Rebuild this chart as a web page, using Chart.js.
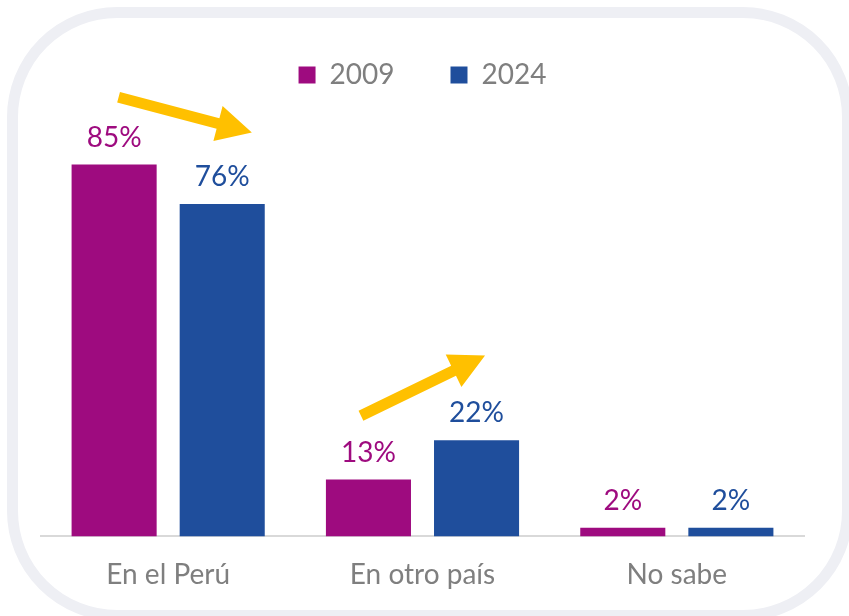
<!DOCTYPE html>
<html>
<head>
<meta charset="utf-8">
<script src="https://cdn.jsdelivr.net/npm/chart.js@4.4.1/dist/chart.umd.min.js"></script>
<style>
html, body { margin: 0; padding: 0; background: #fff; }
#wrap { position: relative; width: 849px; height: 616px; overflow: hidden; }
#frame {
  position: absolute; left: 7px; top: 7px;
  width: 824px; height: 592px;
  border: 11px solid #EEEFF4; border-radius: 110px;
}
#chart { position: absolute; left: 0; top: 0; }
</style>
</head>
<body>
<div id="wrap">
  <div id="frame"></div>
  <canvas id="chart" width="849" height="616"></canvas>
</div>
<script>
// data
const categories = ['En el Perú', 'En otro país', 'No sabe'];
const seriesNames = ['2009', '2024'];
const values2009 = [85, 13, 2];
const values2024 = [76, 22, 2];

const colors = ['#9E0B7F', '#1F4E9C'];
const textGray = '#7F7F7F';
const fontFamily = 'Lato, "Open Sans", sans-serif';

// yellow arrows, in axis units: [from index, from value, to index, to value]
const arrows = [
  [-0.195, 100.4, 0.329, 92.35],
  [0.758, 27.6, 1.246, 41.35]
];

const valueLabels = {
  id: 'valueLabels',
  afterDatasetsDraw(chart) {
    const ctx = chart.ctx;
    ctx.save();
    ctx.font = '28px ' + fontFamily;
    ctx.textAlign = 'center';
    ctx.textBaseline = 'alphabetic';
    chart.data.datasets.forEach((ds, i) => {
      const meta = chart.getDatasetMeta(i);
      ctx.fillStyle = ds.backgroundColor;
      meta.data.forEach((bar, j) => {
        ctx.fillText(ds.data[j] + '%', bar.x, bar.y - 18);
      });
    });
    ctx.restore();
  }
};

const arrowPlugin = {
  id: 'arrowPlugin',
  afterDraw(chart) {
    const ctx = chart.ctx;
    const xs = chart.scales.x, ys = chart.scales.y;
    ctx.save();
    ctx.fillStyle = '#FFC000';
    arrows.forEach(a => {
      const x1 = xs.getPixelForValue(a[0]), y1 = ys.getPixelForValue(a[1]);
      const x2 = xs.getPixelForValue(a[2]), y2 = ys.getPixelForValue(a[3]);
      const ang = Math.atan2(y2 - y1, x2 - x1);
      const len = Math.hypot(x2 - x1, y2 - y1);
      const headLen = 35, headW = 18, shaft = 5.5;
      ctx.save();
      ctx.translate(x1, y1);
      ctx.rotate(ang);
      ctx.beginPath();
      ctx.moveTo(0, -shaft);
      ctx.lineTo(len - headLen, -shaft);
      ctx.lineTo(len - headLen, -headW);
      ctx.lineTo(len, 0);
      ctx.lineTo(len - headLen, headW);
      ctx.lineTo(len - headLen, shaft);
      ctx.lineTo(0, shaft);
      ctx.closePath();
      ctx.fill();
      ctx.restore();
    });
    ctx.restore();
  }
};

new Chart(document.getElementById('chart'), {
  type: 'bar',
  data: {
    labels: categories,
    datasets: [
      { label: seriesNames[0], data: values2009, backgroundColor: colors[0] },
      { label: seriesNames[1], data: values2024, backgroundColor: colors[1] }
    ]
  },
  options: {
    responsive: false,
    animation: false,
    devicePixelRatio: 1,
    categoryPercentage: 0.85,
    barPercentage: 0.787,
    layout: { padding: { left: 41, right: 45, top: 5, bottom: 10 } },
    plugins: {
      tooltip: { enabled: false },
      legend: {
        position: 'top',
        labels: {
          boxWidth: 17,
          boxHeight: 17,
          padding: 56,
          color: textGray,
          font: { family: fontFamily, size: 28 }
        }
      }
    },
    scales: {
      x: {
        grid: { display: false },
        border: { display: true, color: '#D9D9D9', width: 2 },
        ticks: { color: textGray, font: { family: fontFamily, size: 28 }, padding: 14 }
      },
      y: {
        display: false,
        min: 0,
        max: 100
      }
    }
  },
  plugins: [valueLabels, arrowPlugin]
});
</script>
</body>
</html>
